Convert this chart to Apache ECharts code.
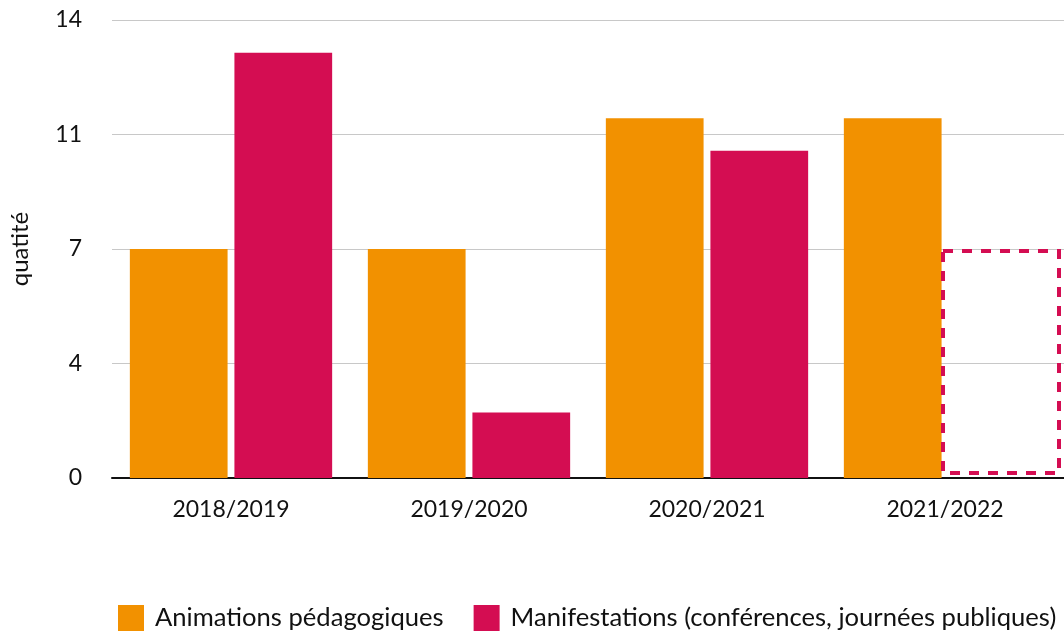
<!DOCTYPE html>
<html><head><meta charset="utf-8">
<script src="https://cdn.jsdelivr.net/npm/echarts@6/dist/echarts.min.js"></script>
<style>html,body{margin:0;padding:0;background:#fff}#c{width:1064px;height:636px}</style>
</head><body><div id="c"></div>
<script>
const categories = ['2018/2019', '2019/2020', '2020/2021', '2021/2022'];
const animations = [7, 7, 11, 11];
const manifestations = [13, 2, 10, null];
const manifestationsEstimated = [null, null, null, 7];
const seriesNames = ['Animations pédagogiques', 'Manifestations (conférences, journées publiques)'];
const yAxisName = 'quatité';

const ORANGE = '#F29100';
const MAGENTA = '#D40D52';
const FONT = '"Source Sans Pro", Lato, "Noto Sans", sans-serif';

const chart = echarts.init(document.getElementById('c'));
chart.setOption({
  animation: false,
  textStyle: { fontFamily: FONT },
  grid: { left: 110, right: 0, top: 20, bottom: 158 },
  legend: {
    left: 113, bottom: 0, itemWidth: 26, itemHeight: 26, itemGap: 30,
    icon: 'rect',
    textStyle: { fontSize: 25.6, color: '#111', fontFamily: FONT, padding: [0, 0, 0, 6] },
    data: seriesNames
  },
  xAxis: {
    type: 'category', data: categories,
    axisLine: { lineStyle: { color: '#111', width: 2 } },
    axisTick: { show: false },
    axisLabel: { fontSize: 23, color: '#111', margin: 20 }
  },
  yAxis: {
    type: 'value', min: 0, max: 14, interval: 3.5,
    name: yAxisName, nameLocation: 'middle', nameGap: 80,
    nameTextStyle: { fontSize: 24, color: '#111' },
    axisLabel: { fontSize: 23, color: '#111', margin: 30, formatter: v => Math.round(v) },
    splitLine: { lineStyle: { color: '#c8c8c8', width: 1 } },
    axisLine: { show: false }, axisTick: { show: false }
  },
  series: [
    { name: seriesNames[0], type: 'bar', data: animations, itemStyle: { color: ORANGE },
      barGap: '7%', barCategoryGap: '15%' },
    { name: seriesNames[1], type: 'bar', data: manifestations, itemStyle: { color: MAGENTA },
      barGap: '7%', barCategoryGap: '15%' },
    { name: seriesNames[1] + ' (estimé)', type: 'custom', z: 5,
      data: manifestationsEstimated.map((v, i) => [i, v]),
      renderItem: function (params, api) {
        const v = api.value(1);
        if (v == null || isNaN(v)) return;
        const top = api.coord([api.value(0), v]);
        const base = api.coord([api.value(0), 0]);
        const band = api.size([1, 0])[0];
        const x0 = top[0] - 2;
        const x1 = top[0] + band / 2 - 5;
        return {
          type: 'rect',
          shape: { x: x0, y: top[1] + 2, width: x1 - x0, height: base[1] - top[1] - 7 },
          style: { fill: 'transparent', stroke: MAGENTA, lineWidth: 4, lineDash: [10, 9] }
        };
      }
    }
  ]
});
</script></body></html>
